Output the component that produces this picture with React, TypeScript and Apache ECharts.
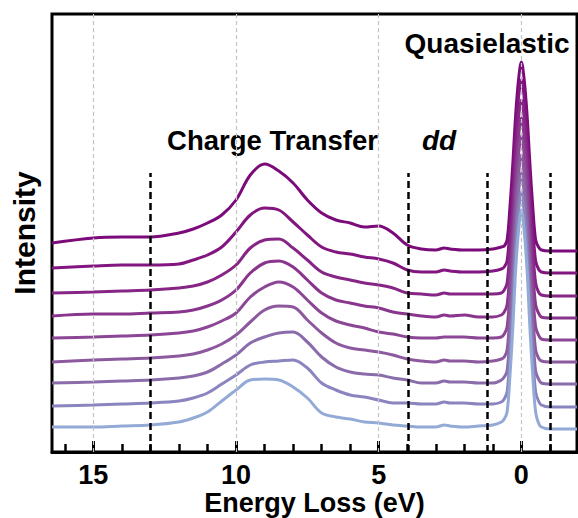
import React, { useEffect, useRef } from "react";
import * as echarts from "echarts";

// Energy loss grid (eV)
const energies = [16.45, 15, 14, 13, 12, 11.5, 11, 10.5, 10, 9.5, 9, 8.5, 8, 7.5, 7, 6.5, 6, 5.5, 5, 4.5, 4, 3.5, 3, 2.7, 2.5, 2, 1.5, 1, 0.7, 0.6, 0.5, 0.4, 0.3, 0.2, 0.1, 0, -0.1, -0.2, -0.3, -0.4, -0.5, -0.6, -0.7, -1, -1.5, -1.95];

// Offset spectra (arb. units), top curve first
const spectrum1 = [209, 214, 215, 215, 219, 223, 229, 237, 252, 277, 288, 281, 269, 252, 239, 232, 229, 225, 226, 219, 207, 203, 202, 204, 203, 202, 202, 203, 205, 206, 212, 245, 288, 337, 372, 390, 372, 337, 288, 245, 212, 205, 202, 201, 201, 201];
const spectrum2 = [184, 186, 187, 187, 188, 192, 197, 205, 220, 237, 244, 242, 230, 217, 205, 200, 198, 195, 193, 189, 182, 180, 180, 182, 181, 180, 180, 181, 183, 185, 191, 224, 267, 318, 354, 372, 354, 318, 267, 224, 191, 183, 180, 179, 179, 179];
const spectrum3 = [159, 160, 161, 162, 164, 166, 170, 177, 187, 204, 212, 213, 204, 192, 180, 175, 172, 169, 167, 164, 159, 158, 157, 159, 158, 158, 158, 158, 159, 162, 169, 203, 246, 298, 334, 352, 334, 298, 246, 203, 169, 160, 157, 156, 156, 156];
const spectrum4 = [136, 138, 138, 139, 140, 142, 146, 152, 162, 179, 189, 191, 185, 172, 159, 152, 149, 146, 144, 140, 138, 136, 135, 137, 136, 137, 135, 135, 137, 140, 147, 182, 226, 279, 315, 334, 315, 279, 226, 182, 147, 139, 135, 134, 134, 134];
const spectrum5 = [114, 115, 116, 117, 119, 121, 125, 131, 139, 155, 165, 170, 165, 152, 139, 131, 127, 124, 120, 118, 115, 114, 114, 115, 115, 115, 114, 114, 115, 118, 125, 160, 206, 259, 297, 316, 297, 259, 206, 160, 125, 117, 113, 112, 112, 112];
const spectrum6 = [90, 92, 93, 94, 96, 98, 102, 108, 117, 130, 142, 146, 145, 132, 119, 109, 104, 102, 100, 97, 93, 91, 90, 92, 91, 91, 90, 91, 93, 95, 102, 138, 185, 239, 277, 297, 277, 239, 185, 138, 102, 94, 91, 90, 90, 90];
const spectrum7 = [69, 70, 71, 72, 74, 76, 80, 88, 97, 109, 115, 119, 120, 110, 95, 85, 80, 78, 77, 74, 72, 69, 69, 71, 70, 70, 69, 69, 72, 75, 81, 118, 165, 220, 259, 279, 259, 220, 165, 118, 81, 73, 69, 68, 68, 68];
const spectrum8 = [46, 47, 48, 49, 51, 54, 59, 68, 77, 87, 90, 91, 92, 84, 69, 62, 57, 55, 52, 49, 49, 48, 48, 50, 49, 49, 48, 48, 50, 53, 60, 97, 144, 201, 240, 260, 240, 201, 144, 97, 60, 51, 47, 45, 45, 45];
const spectrum9 = [25, 25, 26, 27, 30, 34, 40, 51, 62, 72, 73, 72, 65, 54, 39, 35, 33, 30, 29, 27, 26, 25, 25, 27, 26, 25, 26, 27, 30, 33, 40, 76, 124, 182, 221, 242, 221, 182, 124, 76, 40, 29, 25, 23, 23, 23];

const spectra = [spectrum1, spectrum2, spectrum3, spectrum4, spectrum5, spectrum6, spectrum7, spectrum8, spectrum9];
const curveColors = ["#7b0a7b", "#82157f", "#862585", "#89358d", "#8b4795", "#8c599f", "#8b6cab", "#8a84bf", "#94aad6"];

const majorTicks = [0, 5, 10, 15];
const minorTicks = [-1, 0, 1, 2, 3, 4, 5, 6, 7, 8, 9, 10, 11, 12, 13, 14, 15, 16];
const guideLines = [15, 10, 5, 0];
const regionLines = [13, 3.95, 1.18, -1];
const regionLineTop = 279;
const yMax = 438;
const xMin = -1.95;
const xMax = 16.45;

const FONT = '"Liberation Sans", Arial, Helvetica, sans-serif';

export default function App() {
  const ref = useRef<HTMLDivElement>(null);

  useEffect(() => {
    document.body.style.margin = "0";
    if (!ref.current) return;
    const chart = echarts.init(ref.current, null, { renderer: "svg" });

    const curveSeries = spectra.map((vals, k) => ({
      type: "line",
      name: "curve" + (k + 1),
      data: energies.map((e, i) => [e, vals[i]]),
      xAxisIndex: 0,
      yAxisIndex: 0,
      showSymbol: false,
      symbol: "none",
      smooth: 0.35,
      silent: true,
      lineStyle: { color: curveColors[k], width: 3 },
      itemStyle: { color: curveColors[k] },
      emphasis: { disabled: true },
    }));

    const markData: any[] = [];
    guideLines.forEach((v) => {
      markData.push([
        { coord: [v, 0], lineStyle: { color: "#c4c4c4", width: 1.2, type: [4, 3] } },
        { coord: [v, yMax] },
      ]);
    });
    regionLines.forEach((v) => {
      markData.push([
        { coord: [v, 0], lineStyle: { color: "#000", width: 2.5, type: [7, 4] } },
        { coord: [v, regionLineTop] },
      ]);
    });

    const lastIdx = curveSeries.length - 1;
    (curveSeries[lastIdx] as any).markLine = {
      silent: true,
      symbol: "none",
      label: { show: false },
      emphasis: { disabled: true },
      data: markData,
    };

    const option: any = {
      animation: false,
      grid: {
        left: 52,
        right: 1,
        top: 14,
        bottom: 66,
        outerBoundsMode: "none",
        containLabel: false,
        show: true,
        borderColor: "#000",
        borderWidth: 3,
        backgroundColor: "transparent",
      },
      xAxis: [
        {
          type: "value",
          min: xMin,
          max: xMax,
          inverse: true,
          position: "bottom",
          axisLine: { show: true, lineStyle: { color: "#000", width: 3 } },
          axisTick: {
            show: true,
            inside: true,
            length: 11,
            customValues: majorTicks,
            lineStyle: { color: "#000", width: 3 },
          },
          axisLabel: {
            show: true,
            customValues: majorTicks,
            fontSize: 27,
            lineHeight: 24,
            fontWeight: "bold",
            fontFamily: FONT,
            color: "#000",
            margin: 11,
          },
          splitLine: { show: false },
          name: "Energy Loss (eV)",
          nameLocation: "middle",
          nameGap: 38.5,
          nameMoveOverlap: false,
          nameTextStyle: { fontSize: 27, lineHeight: 24, fontWeight: "bold", fontFamily: FONT, color: "#000" },
        },
        {
          type: "value",
          min: xMin,
          max: xMax,
          inverse: true,
          position: "bottom",
          axisLine: { show: false },
          axisTick: {
            show: true,
            inside: true,
            length: 8,
            customValues: minorTicks,
            lineStyle: { color: "#000", width: 2.5 },
          },
          axisLabel: { show: false },
          splitLine: { show: false },
        },
      ],
      yAxis: {
        type: "value",
        min: 0,
        max: yMax,
        axisLine: { show: false },
        axisTick: { show: false },
        axisLabel: { show: false },
        splitLine: { show: false },
        name: "Intensity",
        nameLocation: "middle",
        nameGap: 13,
        nameMoveOverlap: false,
        nameTextStyle: { fontSize: 30, fontWeight: "bold", fontFamily: FONT, color: "#000" },
      },
      graphic: [
        {
          type: "text",
          x: 272.5,
          y: 140.5,
          silent: true,
          style: { text: "Charge Transfer", fontSize: 27.5, fontWeight: "bold", fontFamily: FONT, fill: "#000", align: "center", verticalAlign: "middle" },
        },
        {
          type: "text",
          x: 439,
          y: 140.5,
          silent: true,
          style: { text: "dd", fontSize: 28, fontWeight: "bold", fontStyle: "italic", fontFamily: FONT, fill: "#000", align: "center", verticalAlign: "middle" },
        },
        {
          type: "text",
          x: 487,
          y: 43.5,
          silent: true,
          style: { text: "Quasielastic", fontSize: 28, fontWeight: "bold", fontFamily: FONT, fill: "#000", align: "center", verticalAlign: "middle" },
        },
      ],
      series: curveSeries,
    };

    chart.setOption(option);
    return () => chart.dispose();
  }, []);

  return <div ref={ref} style={{ width: 578, height: 518 }} />;
}
